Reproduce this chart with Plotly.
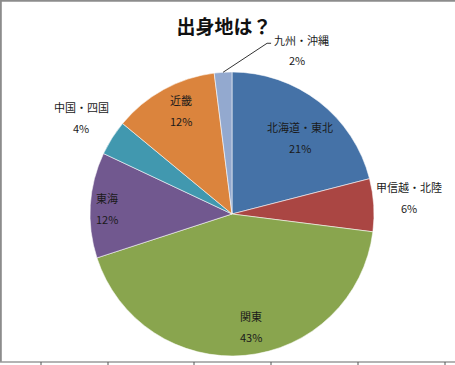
import math
import plotly.graph_objects as go

# ---- data ----
regions = ["北海道・東北", "甲信越・北陸", "関東", "東海", "中国・四国", "近畿", "九州・沖縄"]
shares = [21, 6, 43, 12, 4, 12, 2]
colors = ["#4572A7", "#AA4643", "#89A54E", "#71588F", "#4198AF", "#DB843D", "#93A9CF"]
title_text = "出身地は？"

# ---- layout constants (pixels) ----
W, H = 455, 365
CX, CY, R = 232, 214, 142
FONT = "Noto Sans CJK JP, Noto Sans, sans-serif"
TXT = "#1a1a1a"

# label placement style: radial factor and angular tweak (deg), None = leader-line label
label_r = [0.72, 1.25, 0.80, 0.88, 1.26, 0.81, None]
label_da = [4.0, -1.6, -4.2, -1.3, 0.3, 2.5, 0.0]


def px(x):
    return x / W


def py(y):
    return 1 - y / H


total = sum(shares)
fig = go.Figure(go.Pie(
    labels=regions,
    values=shares,
    sort=False,
    direction="clockwise",
    rotation=0,
    textinfo="none",
    hoverinfo="label+percent",
    marker=dict(colors=colors, line=dict(color="rgba(255,255,255,0.55)", width=1)),
    domain=dict(x=[px(CX - R), px(CX + R)], y=[py(CY + R), py(CY - R)]),
    showlegend=False,
))

annotations = []
shapes = []
cum = 0
for name, v, rf, da in zip(regions, shares, label_r, label_da):
    mid = (cum + v / 2) / total * 360
    cum += v
    pct = f"{round(v / total * 100)}%"
    if rf is None:
        # leader line label
        a = math.radians(mid)
        ex, ey = CX + R * math.sin(a), CY - R * math.cos(a)
        bx, by = ex + 44, ey - 29
        tx = bx + 4
        shapes.append(dict(type="path", xref="paper", yref="paper",
                           path=f"M {px(ex)},{py(ey)} L {px(bx)},{py(by)} L {px(tx)},{py(by)}",
                           line=dict(color="#333333", width=1)))
        annotations.append(dict(x=px(tx + 1), y=py(by - 3), xanchor="left", yanchor="middle",
                                text=name, showarrow=False,
                                font=dict(family=FONT, size=11, color=TXT)))
        annotations.append(dict(x=px(tx + 26), y=py(by + 17), xanchor="center", yanchor="middle",
                                text=pct, showarrow=False,
                                font=dict(family=FONT, size=11, color=TXT)))
        continue
    a = math.radians(mid + da)
    lx, ly = CX + rf * R * math.sin(a), CY - rf * R * math.cos(a)
    for t, dy in ((name, -10.5), (pct, 10.5)):
        annotations.append(dict(x=px(lx), y=py(ly + dy), xanchor="center", yanchor="middle",
                                text=t, showarrow=False,
                                font=dict(family=FONT, size=11, color=TXT)))

# frame (top, left, bottom) and little cell ticks below the bottom line
frame_col = "#8c8c8c"
shapes += [
    dict(type="line", xref="paper", yref="paper", x0=0, x1=1, y0=py(0.8), y1=py(0.8),
         line=dict(color=frame_col, width=2)),
    dict(type="line", xref="paper", yref="paper", x0=px(0.8), x1=px(0.8), y0=py(0), y1=py(362),
         line=dict(color=frame_col, width=2)),
    dict(type="line", xref="paper", yref="paper", x0=0, x1=1, y0=py(362), y1=py(362),
         line=dict(color="#9a9a9a", width=1.5)),
]
for tx in [41, 108, 194, 271, 358, 445]:
    shapes.append(dict(type="line", xref="paper", yref="paper", x0=px(tx), x1=px(tx),
                       y0=py(362), y1=py(365), line=dict(color="#555555", width=1)))

fig.update_layout(
    width=W, height=H,
    margin=dict(l=0, r=0, t=0, b=0),
    paper_bgcolor="white",
    plot_bgcolor="white",
    title=dict(text=f"<b>{title_text}</b>", x=px(224), y=py(27), xanchor="center", yanchor="middle",
               font=dict(family=FONT, size=19, color="#111111")),
    annotations=annotations,
    shapes=shapes,
)

fig.write_html("out.html")
